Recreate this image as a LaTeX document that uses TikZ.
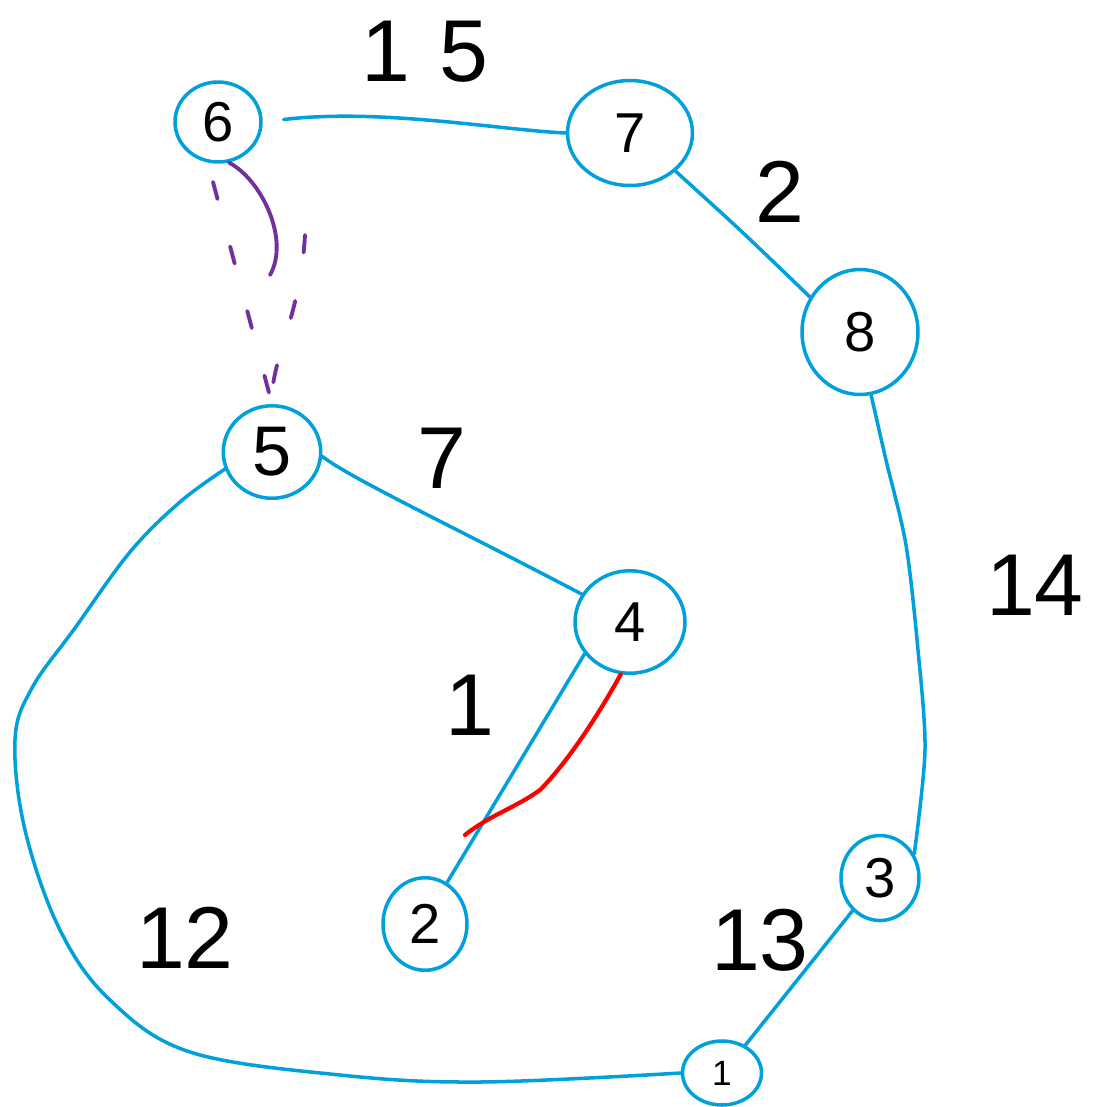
\documentclass[tikz,border=0pt]{standalone}
\usepackage{fontspec}
\setmainfont{Liberation Sans}
\usetikzlibrary{shapes.geometric}
\definecolor{inkblue}{RGB}{0,160,220}
\definecolor{inkpurple}{RGB}{112,48,160}
\definecolor{inkred}{RGB}{255,0,0}
\tikzset{
  vert/.style={ellipse, draw=inkblue, line width=2pt, inner sep=0pt, font=\fontsize{32}{36}\selectfont},
  edge/.style={draw=inkblue, line width=2pt, line cap=round},
  wlabel/.style={font=\fontsize{50}{58}\selectfont, inner sep=0pt},
  redge/.style={draw=inkred, line width=2.4pt, line cap=round},
  pedge/.style={draw=inkpurple, line width=2.2pt, line cap=round},
  pdash/.style={draw=inkpurple, line width=2.2pt, line cap=round, dash pattern=on 10pt off 28pt}
}
\begin{document}
\begin{tikzpicture}[x=0.02cm, y=-0.02cm]
\path[use as bounding box, fill=white] (0,0) rectangle (1099,1107);
% vertices
\node[vert, minimum width=1.72cm, minimum height=1.6cm] (n6) at (218,122) {6};
\node[vert, minimum width=2.5cm, minimum height=2.1cm] (n7) at (630,133) {7};
\node[vert, minimum width=2.32cm, minimum height=2.5cm] (n8) at (860,332) {8};
\node[vert, minimum width=1.95cm, minimum height=1.85cm, font=\fontsize{40}{44}\selectfont] (n5) at (272,452) {5};
\node[vert, minimum width=2.2cm, minimum height=2.05cm] (n4) at (630,622) {4};
\node[vert, minimum width=1.68cm, minimum height=1.85cm] (n2) at (425,924) {2};
\node[vert, minimum width=1.56cm, minimum height=1.7cm] (n3) at (880,878) {3};
\node[vert, minimum width=1.58cm, minimum height=1.28cm, font=\fontsize{20}{24}\selectfont] (n1) at (722,1073) {1};
% edges
\draw[edge, shorten <=12pt] (n6.east) .. controls (380,108) and (500,130) .. (n7.west);
\draw[edge] plot[smooth] coordinates {(n7.-40) (740,230) (n8.145)};
\draw[edge] plot[smooth] coordinates {(n8.-80) (886,460) (906,545) (918,650) (925,750) (n3.35)};
\draw[edge] (n3.-130) -- (n1.50);
\draw[edge] plot[smooth, tension=0.6] coordinates {(n1.west) (480,1082) (340,1075) (190,1052) (110,1000) (60,930) (25,830) (15,740) (32,688) (75,628) (130,552) (180,502) (n5.-160)};
\draw[edge] (n5.-5) .. controls (350,478) and (450,525) .. (n4.150);
\draw[edge] (n4.-145) -- (n2.62);
% red edge
\coordinate (rend) at (465,835);
\draw[redge] (n4.-100) .. controls (590,730) and (560,770) .. (540,790) .. controls (515,808) and (490,815) .. (rend);
% purple edges
\coordinate (ps) at (270,275);
\draw[pedge] (n6.-75) .. controls (262,180) and (290,240) .. (ps);
\coordinate (pl) at (213,182);
\coordinate (pr) at (305,235);
\draw[pdash] (pl) -- (n5.north);
\draw[pdash] (pr) .. controls (300,320) and (270,360) .. (n5.north);
% weight labels
\node[wlabel] (w15) at (425,52) {1\,\,5};
\node[wlabel] (w2) at (780,192) {2};
\node[wlabel] (w7) at (442,458) {7};
\node[wlabel] (w14) at (1035,585) {14};
\node[wlabel] (w1) at (470,705) {1};
\node[wlabel] (w12) at (185,938) {12};
\node[wlabel] (w13) at (760,940) {13};
\end{tikzpicture}
\end{document}
